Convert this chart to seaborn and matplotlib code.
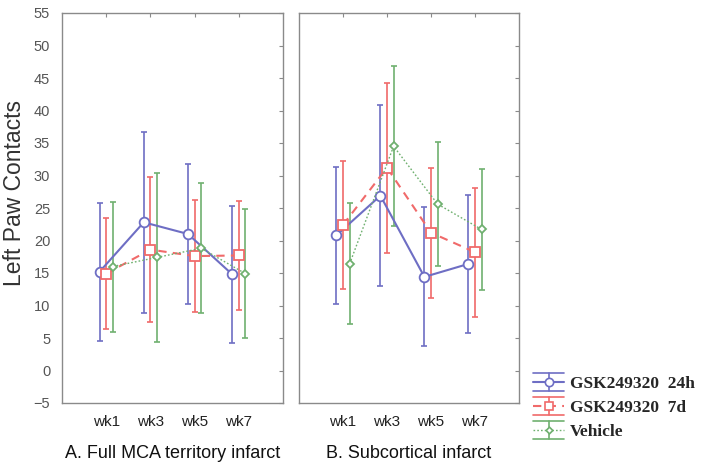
import numpy as np
import pandas as pd
import matplotlib
matplotlib.use("Agg")
import matplotlib.pyplot as plt
import seaborn as sns
from matplotlib.lines import Line2D
from matplotlib.legend_handler import HandlerBase

weeks = ["wk1", "wk3", "wk5", "wk7"]
groups = ["GSK249320  24h", "GSK249320  7d", "Vehicle"]
panels = ["A. Full MCA territory infarct", "B. Subcortical infarct"]

# Panel A means / error half-widths
a_24h_mean = [15.2, 22.8, 21.0, 14.8]
a_24h_err = [10.6, 13.9, 10.8, 10.5]
a_7d_mean = [14.9, 18.6, 17.6, 17.7]
a_7d_err = [8.5, 11.1, 8.6, 8.4]
a_veh_mean = [16.0, 17.4, 18.8, 14.9]
a_veh_err = [10.0, 13.0, 10.0, 9.9]

# Panel B
b_24h_mean = [20.8, 26.9, 14.4, 16.4]
b_24h_err = [10.5, 13.9, 10.7, 10.6]
b_7d_mean = [22.4, 31.2, 21.2, 18.2]
b_7d_err = [9.9, 13.1, 10.0, 9.9]
b_veh_mean = [16.4, 34.5, 25.6, 21.7]
b_veh_err = [9.3, 12.3, 9.5, 9.3]

rows = []
for panel, series in zip(panels, [
        [(a_24h_mean, a_24h_err), (a_7d_mean, a_7d_err), (a_veh_mean, a_veh_err)],
        [(b_24h_mean, b_24h_err), (b_7d_mean, b_7d_err), (b_veh_mean, b_veh_err)]]):
    for g, (m, e) in zip(groups, series):
        for w, mv, ev in zip(weeks, m, e):
            rows.append(dict(panel=panel, group=g, week=w, mean=mv, err=ev))
df = pd.DataFrame(rows)

sns.set_style("white")
plt.rcParams['font.family'] = ['Liberation Sans', 'DejaVu Sans']

colors = {groups[0]: "#6e6ec4", groups[1]: "#f06a6a", groups[2]: "#6fb06f"}
markers = {groups[0]: "o", groups[1]: "s", groups[2]: "D"}
msizes = {groups[0]: 7, groups[1]: 7, groups[2]: 4}
lstyles = {groups[0]: "-", groups[1]: (0, (4, 3)), groups[2]: (0, (1.2, 1.5))}
lwidths = {groups[0]: 1.5, groups[1]: 1.5, groups[2]: 1.0}
offsets = {groups[0]: -0.15, groups[1]: 0.0, groups[2]: 0.15}

fig = plt.figure(figsize=(7.04, 4.74), dpi=100)
axA = fig.add_axes([62/704, 1-403/474, 221/704, 390/474])
axB = fig.add_axes([299/704, 1-403/474, 220/704, 390/474])

frame_col = "#8a8a8a"
for ax, panel in zip([axA, axB], panels):
    sub = df[df.panel == panel].copy()
    sub["xpos"] = sub["week"].map({w: i for i, w in enumerate(weeks)}) + sub["group"].map(offsets)
    for g in groups:
        s = sub[sub.group == g]
        ax.errorbar(s["xpos"], s["mean"], yerr=s["err"], fmt="none",
                    ecolor=colors[g], elinewidth=1.2, capsize=2.5, capthick=1.2, zorder=2)
        sns.lineplot(data=s, x="xpos", y="mean", ax=ax, color=colors[g],
                     linestyle=lstyles[g], linewidth=lwidths[g], marker=markers[g],
                     markersize=msizes[g], markerfacecolor="white",
                     markeredgecolor=colors[g], markeredgewidth=1.3, zorder=3,
                     sort=False, legend=False)
    ax.set_xlim(-1, 4)
    ax.set_ylim(-5, 55)
    ax.set_xticks(range(len(weeks)))
    ax.set_xticklabels(weeks, fontsize=11)
    ax.set_yticks(np.arange(-5, 56, 5))
    ax.tick_params(direction="in", top=True, right=True, length=3,
                   color=frame_col, labelcolor="#222222", pad=9)
    ax.tick_params(axis="y", labelsize=10.5, labelcolor="#555555", pad=8.5)
    for sp in ax.spines.values():
        sp.set_color(frame_col)
        sp.set_linewidth(1.0)
    ax.set_xlabel(panel, fontsize=13, labelpad=11, color="#111111")
    ax.set_ylabel("")

axB.tick_params(axis="y", labelleft=False)
axA.set_ylabel("Left Paw Contacts", fontsize=16.5, color="#333333")
axA.yaxis.set_label_coords(-36/221, 0.538)


class ErrHandler(HandlerBase):
    def create_artists(self, legend, orig_handle, xdescent, ydescent, width,
                       height, fontsize, trans):
        g = orig_handle.get_label()
        c = colors[g]
        cx = width / 2 - xdescent
        cy = height / 2 - ydescent
        d = 6.5
        arts = [
            Line2D([-xdescent, width - xdescent], [cy + d, cy + d], color=c, lw=1.2),
            Line2D([-xdescent, width - xdescent], [cy - d, cy - d], color=c, lw=1.2),
            Line2D([cx, cx], [cy - d, cy + d], color=c, lw=1.2),
            Line2D([-xdescent, width - xdescent], [cy, cy], color=c, lw=lwidths[g],
                   linestyle=lstyles[g]),
            Line2D([cx], [cy], marker=markers[g], markersize=msizes[g] * 0.85,
                   markerfacecolor="white", markeredgecolor=c, markeredgewidth=1.2,
                   linestyle="none"),
        ]
        for a in arts:
            a.set_transform(trans)
        return arts


handles = [Line2D([], [], label=g) for g in groups]
fig.legend(handles=handles, labels=groups, handler_map={Line2D: ErrHandler()},
           loc="upper left", bbox_to_anchor=(521/704, 1-364/474), frameon=False,
           prop={"family": "Liberation Serif", "weight": "bold", "size": 12.5},
           handlelength=1.8, handletextpad=0.3, labelspacing=0.45, borderpad=0.2)

fig.savefig("out.png", dpi=100)
